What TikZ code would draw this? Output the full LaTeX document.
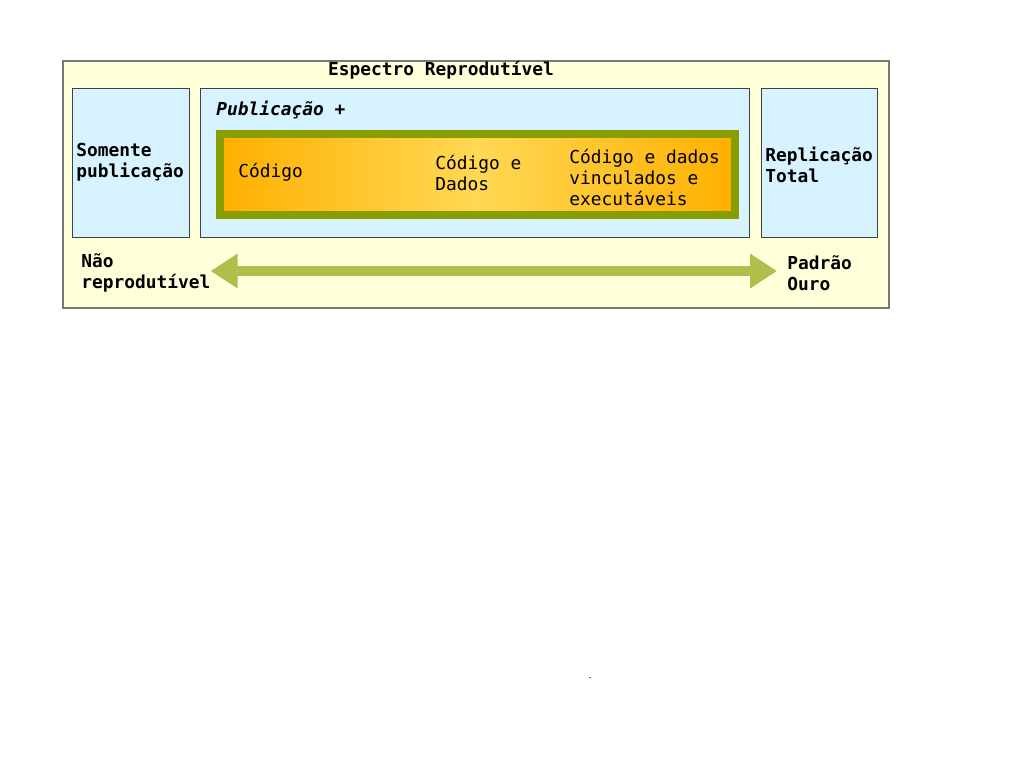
\documentclass[tikz,border=0pt]{standalone}
\usepackage{fontspec}
\setmonofont{DejaVu Sans Mono}
\usepackage{tikz}
\usetikzlibrary{arrows.meta,calc}

\definecolor{ylw}{RGB}{255,255,217}
\definecolor{blu}{RGB}{215,243,255}
\definecolor{olv}{RGB}{136,158,0}
\definecolor{org}{RGB}{255,176,0}
\definecolor{lorg}{RGB}{255,216,84}
\definecolor{arw}{RGB}{176,190,76}
\definecolor{frm}{RGB}{120,120,120}

\begin{document}
\begin{tikzpicture}[x=0.75pt,y=-0.75pt,
    txt/.style={font=\ttfamily\fontsize{13.4}{15.75}\selectfont, inner sep=0pt, align=left, anchor=west},
    bld/.style={txt, font=\ttfamily\bfseries\fontsize{13.4}{15.75}\selectfont},
    box/.style={draw=black!75, fill=blu, inner sep=0pt, anchor=north west, line width=0.6pt}]
    \useasboundingbox (0,0) rectangle (1024,768);

    \node[draw=frm, fill=ylw, line width=1.2pt, inner sep=0pt, anchor=north west,
      minimum width=826*0.75pt, minimum height=247*0.75pt] (F) at (62,60) {};
    \node[box, minimum width=117*0.75pt, minimum height=149*0.75pt] (S) at (72,88) {};
    \node[box, minimum width=549*0.75pt, minimum height=149*0.75pt] (P) at (200,88) {};
    \node[box, minimum width=116*0.75pt, minimum height=149*0.75pt] (R) at (761,88) {};
    \node[draw=olv, line width=6pt, left color=org, right color=org, middle color=lorg,
      inner sep=0pt, anchor=north west,
      minimum width=515*0.75pt, minimum height=81*0.75pt] (C) at (216,130) {};

    \node[bld, anchor=center] (T) at (441,70) {Espectro Reprodutível};
    \node[bld, font=\ttfamily\bfseries\itshape\fontsize{13.4}{15.75}\selectfont] (P1) at (216,110) {Publicação +};
    \node[txt] (C1) at (238,172) {Código};
    \node[txt] (C2) at (435,173) {Código e\\Dados};
    \node[txt] (C3) at (569,177) {Código e dados\\vinculados e\\executáveis};
    \node[bld] (S1) at (76,162) {Somente\\publicação};
    \node[bld] (R1) at (765,165) {Replicação\\Total};
    \node[bld] (N1) at (81,273) {Não\\reprodutível};
    \node[bld] (G1) at (787,273) {Padrão\\Ouro};

    \coordinate (a) at (N1.east |- 0,271);
    \coordinate (b) at ($(G1.west |- 0,271)+(-10,0)$);
    \draw[arw, line width=7pt, {Triangle[length=20.25pt,width=24.75pt]}-{Triangle[length=20.25pt,width=24.75pt]}] (a) -- (b);

    \fill[black!60] (589,676.5) rectangle (591,677.5);
\end{tikzpicture}
\end{document}
